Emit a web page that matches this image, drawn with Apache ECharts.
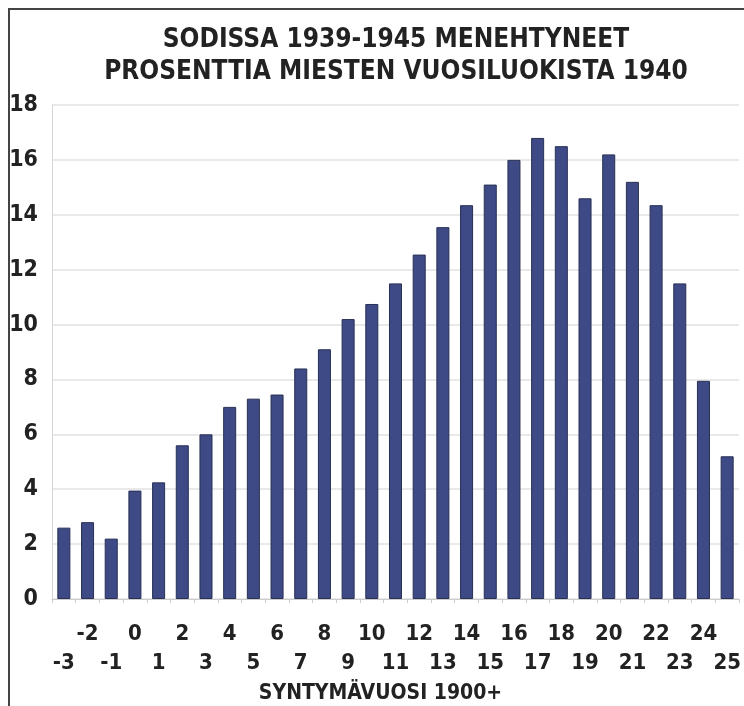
<!DOCTYPE html>
<html>
<head>
<meta charset="utf-8">
<script src="https://cdn.jsdelivr.net/npm/echarts@6/dist/echarts.min.js"></script>
<style>
  html, body { margin: 0; padding: 0; background: #fff; }
  #chart { width: 744px; height: 706px; }
</style>
</head>
<body>
<div id="chart"></div>
<script>
const titleLines = ['SODISSA 1939-1945 MENEHTYNEET', 'PROSENTTIA MIESTEN VUOSILUOKISTA 1940'];
const xAxisName = 'SYNTYMÄVUOSI 1900+';
const categories = ['-3','-2','-1','0','1','2','3','4','5','6','7','8','9','10','11','12','13','14','15','16','17','18','19','20','21','22','23','24','25'];
const values = [2.6, 2.8, 2.2, 3.95, 4.25, 5.6, 6.0, 7.0, 7.3, 7.45, 8.4, 9.1, 10.2, 10.75, 11.5, 12.55, 13.55, 14.35, 15.1, 16.0, 16.8, 16.5, 14.6, 16.2, 15.2, 14.35, 11.5, 7.95, 5.2];
const yTicks = { min: 0, max: 18, interval: 2 };

const FONT = "'Liberation Sans Narrow', 'DejaVu Sans Condensed', 'Liberation Sans', sans-serif";
const chart = echarts.init(document.getElementById('chart'), null, { renderer: 'canvas' });
chart.setOption({
  animation: false,
  backgroundColor: '#ffffff',
  title: {
    text: titleLines.join('\n'),
    left: 391,
    top: 19,
    textAlign: 'center',
    textStyle: { fontFamily: FONT, fontWeight: 'bold', fontSize: 26, lineHeight: 32, color: '#222' }
  },
  grid: { left: 52, right: 5, top: 105, bottom: 107, containLabel: false, outerBoundsMode: 'none' },
  xAxis: {
    type: 'category',
    data: categories,
    name: xAxisName,
    nameLocation: 'middle',
    nameGap: 80,
    nameTextStyle: { fontFamily: FONT, fontWeight: 'bold', fontSize: 21, color: '#222', padding: [0, 30, 0, 0] },
    axisLine: { lineStyle: { color: '#cccccc', width: 1 } },
    axisTick: { show: true, length: 4, lineStyle: { color: '#cccccc' } },
    axisLabel: {
      interval: 0,
      margin: 21,
      fontFamily: FONT, fontWeight: 'bold', fontSize: 22, lineHeight: 29, color: '#222',
      formatter: v => (Number(v) % 2 === 0 ? v + '\n ' : ' \n' + v)
    }
  },
  yAxis: {
    type: 'value',
    min: yTicks.min, max: yTicks.max, interval: yTicks.interval,
    axisLine: { show: true, lineStyle: { color: '#d5d5d5', width: 1 } },
    axisTick: { show: false },
    axisLabel: { margin: 14, fontFamily: FONT, fontWeight: 'bold', fontSize: 23, color: '#222' },
    splitLine: { lineStyle: { color: '#e2e2e2', width: 1.5 } }
  },
  series: [{
    type: 'bar',
    data: values,
    barCategoryGap: '45%',
    itemStyle: { color: '#3d4a86', borderColor: '#283054', borderWidth: 1 }
  }],
  graphic: [
    { type: 'line', shape: { x1: 9, y1: 9, x2: 9, y2: 706 }, style: { stroke: '#444', lineWidth: 2 }, silent: true },
    { type: 'line', shape: { x1: 8, y1: 9, x2: 744, y2: 9 }, style: { stroke: '#444', lineWidth: 2 }, silent: true }
  ]
});
</script>
</body>
</html>
